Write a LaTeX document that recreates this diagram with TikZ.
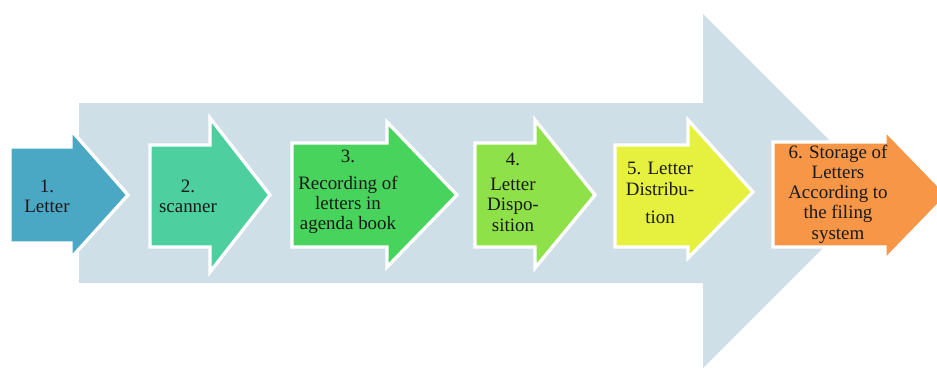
\documentclass[tikz,border=0pt]{standalone}
\usepackage{fontspec}
\setmainfont{Liberation Serif}

\definecolor{bgarrow}{RGB}{206,223,232}
\definecolor{stepone}{RGB}{75,168,197}
\definecolor{steptwo}{RGB}{78,207,160}
\definecolor{stepthree}{RGB}{72,211,92}
\definecolor{stepfour}{RGB}{142,225,72}
\definecolor{stepfive}{RGB}{230,240,62}
\definecolor{stepsix}{RGB}{247,150,70}

\begin{document}
\begin{tikzpicture}[
        x=0.75pt, y=-0.75pt,
        stepshape/.style={draw=white, line width=2.5pt, line join=miter},
        every node/.style={align=center, font=\fontsize{14.2}{15.2}\selectfont, text=black!90}
    ]

    \useasboundingbox (0,0) rectangle (937,369);

    % Big background arrow
    \fill[bgarrow] (79,103) -- (703,103) -- (703,14) -- (880,191)
        -- (703,368) -- (703,283) -- (79,283) -- cycle;

    % Step 1
    \filldraw[stepshape, fill=stepone] (10,147) -- (71,147) -- (71,130) -- (128,195)
        -- (71,258) -- (71,243) -- (10,243) -- cycle;
    \node (letter) at (47,196) {1.\\Letter};

    % Step 2
    \filldraw[stepshape, fill=steptwo] (150,145) -- (210,145) -- (210,118) -- (270,195)
        -- (210,272) -- (210,247) -- (150,247) -- cycle;
    \node (scanner) at (188,196) {2.\\scanner};

    % Step 3
    \filldraw[stepshape, fill=stepthree] (292,143) -- (387,143) -- (387,122) -- (457,195)
        -- (387,267) -- (387,247) -- (292,247) -- cycle;
    \node (recording) at (348,192) {3.\\[5pt]Recording of\\letters in\\agenda book};

    % Step 4
    \filldraw[stepshape, fill=stepfour] (475,143) -- (535,143) -- (535,120) -- (595,195)
        -- (535,268) -- (535,247) -- (475,247) -- cycle;
    \node (disposition) at (513,192) {4.\\[4pt]Letter\\Dispo-\\sition};

    % Step 5
    \filldraw[stepshape, fill=stepfive] (615,145) -- (688,145) -- (688,120) -- (753,192)
        -- (688,258) -- (688,247) -- (615,247) -- cycle;
    \node (distribution) at (660,193) {5. Letter\\Distribu-\\[6pt]tion};

    % Step 6
    \filldraw[stepshape, fill=stepsix] (773,142) -- (885,142) -- (885,130) -- (948,195)
        -- (885,260) -- (885,247) -- (773,247) -- cycle;
    \node (storage) at (838,194) {6. Storage of\\Letters\\According to\\the filing\\system};

\end{tikzpicture}
\end{document}
